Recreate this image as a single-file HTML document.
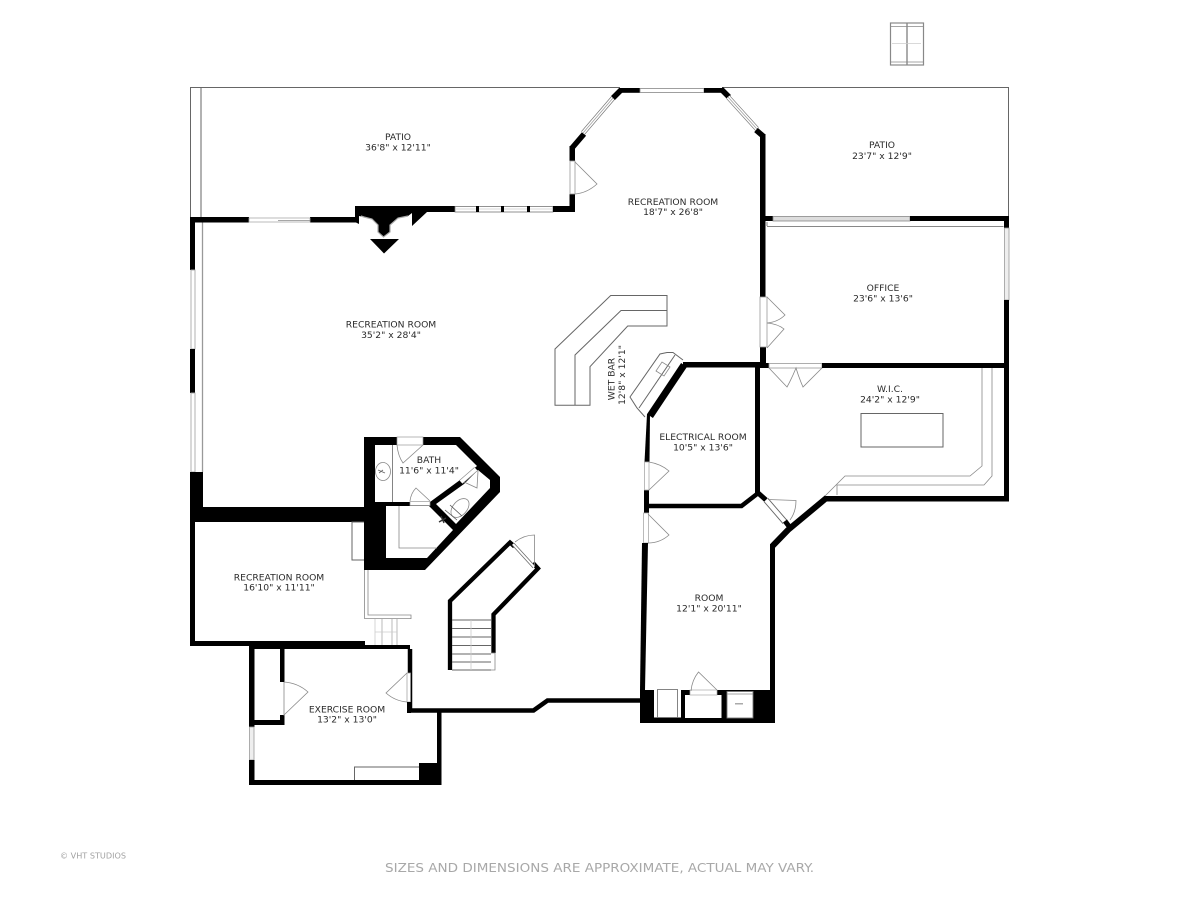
<!DOCTYPE html>
<html>
<head>
<meta charset="utf-8">
<style>
html,body{margin:0;padding:0;background:#fff}
svg{display:block}
text{font-family:"DejaVu Sans","Liberation Sans",sans-serif;font-size:9.2px;fill:#2a2a2a;text-anchor:middle}
.g{fill:none;stroke:#666;stroke-width:1}
.l{fill:none;stroke:#888;stroke-width:.8}
.f{fill:none;stroke:#ccc;stroke-width:.8}
.k{fill:none;stroke:#000;stroke-linejoin:miter}
</style>
</head>
<body>
<svg width="1200" height="900" viewBox="0 0 1200 900" xmlns="http://www.w3.org/2000/svg">
<rect width="1200" height="900" fill="#fff"/>

<!-- top box -->
<rect x="890.5" y="23" width="33" height="42" class="l" style="stroke-width:1.2"/>
<path d="M890 26.5H924M890 62H924" class="l"/>
<path d="M907 23V65" class="l" style="stroke-width:1.4"/>
<path d="M892 43.5H921" class="f"/>

<!-- patio outlines -->
<path d="M190.5 217V87.5H620M722 87.5H1008.5V217M201 87.5V217" class="g"/>

<!-- top-left walls -->
<rect x="190" y="217" width="59" height="5.5"/>
<rect x="310" y="217" width="46" height="5.5"/>
<rect x="190" y="217" width="5" height="53"/>
<rect x="249" y="218" width="61" height="4" fill="#fff" stroke="#aaa" stroke-width=".8"/>
<path d="M278 220.5H310" class="l"/>

<!-- fireplace -->
<path d="M355 206H455V212H427L412 226V213L408 216L398 218L390 225V232L383.5 237L378 232V225L372 219L364 217L359 216V224L355 222Z"/>
<path d="M361 216L364 217L372 219L378 225V232L383.500 237L390 232V225L398 218L408 216" fill="none" stroke="#aaa" stroke-width="1.200"/>
<path d="M370 239H399L384 253.500Z"/>

<!-- top windows -->
<rect x="455" y="206.5" width="98" height="5.5" fill="#fff" stroke="#777" stroke-width=".8"/>
<path d="M455 209H553" class="f"/>
<rect x="476" y="206" width="3" height="6"/>
<rect x="501" y="206" width="3" height="6"/>
<rect x="527" y="206" width="3" height="6"/>
<rect x="553" y="206" width="22" height="6"/>

<!-- left bay -->
<rect x="569.500" y="146" width="5.500" height="15"/>
<rect x="569.500" y="194" width="5.500" height="18"/>
<rect x="570" y="161" width="5" height="33" fill="#fff" stroke="#999" stroke-width=".8"/>
<path d="M572 148L584 134" class="k" stroke-width="5.500"/>
<path d="M583 133L613 98" stroke="#777" stroke-width="5"/>
<path d="M583 133L613 98" stroke="#fff" stroke-width="3.600"/>
<path d="M583 133L613 98" stroke="#999" stroke-width=".7"/>
<path d="M613 98L621 90" class="k" stroke-width="5.500"/>
<rect x="619" y="88" width="21" height="4.800"/>
<rect x="640" y="88.500" width="64" height="4" fill="#fff" stroke="#888" stroke-width=".8"/>
<rect x="704" y="88" width="18" height="4.800"/>
<path d="M721 89L729 97" class="k" stroke-width="5.500"/>
<path d="M728 97L757 129" stroke="#777" stroke-width="5"/>
<path d="M728 97L757 129" stroke="#fff" stroke-width="3.600"/>
<path d="M728 97L757 129" stroke="#999" stroke-width=".7"/>
<path d="M756 130L763 136" class="k" stroke-width="5.500"/>
<rect x="760" y="134" width="5.500" height="163"/>
<rect x="760" y="347" width="6" height="20"/>
<rect x="760" y="297" width="7" height="50" fill="#fff" stroke="#999" stroke-width=".8"/>

<!-- door swing rec -->
<path d="M575 162L597 184Q587 193 575 194" class="l"/>

<!-- office -->
<rect x="765" y="216" width="8" height="5"/>
<rect x="773" y="216.500" width="137" height="4.500" fill="#ddd" stroke="#888" stroke-width=".8"/>
<rect x="910" y="216" width="99" height="5"/>
<rect x="1004" y="216" width="5" height="12"/>
<path d="M767 226.500H1003.500M767 222V226" class="l" style="stroke-width:1.100"/>
<rect x="1004.500" y="228" width="4.500" height="72" fill="#eee" stroke="#999" stroke-width=".8"/>
<rect x="1004" y="300" width="5" height="201"/>
<path d="M767 297L785 315Q778 322 767 323Q778 324 784 329L767 348" class="l"/>

<!-- horizontal wall office / WIC -->
<rect x="683" y="362" width="77" height="5.500"/>
<rect x="760" y="363" width="9" height="5"/>
<rect x="769" y="363.500" width="53" height="4.500" fill="#fff" stroke="#999" stroke-width=".8"/>
<rect x="822" y="363" width="187" height="5"/>
<path d="M769 368L787 387Q792 378 796 368Q799 378 803 387L822 368" class="l"/>

<!-- electrical -->
<rect x="755" y="363" width="5" height="130"/>
<path d="M684 365L650 416" class="k" stroke-width="7"/>
<path d="M647 414L644.500 462H649.500L650 414Z"/>
<rect x="644" y="490" width="5" height="23"/>
<rect x="644.500" y="462" width="4.500" height="28" fill="#fff" stroke="#aaa" stroke-width=".8"/>
<rect x="643.500" y="513" width="5" height="30" fill="#fff" stroke="#aaa" stroke-width=".8"/>
<path d="M649 462Q661 464 669 471L649 490" class="l"/>
<path d="M648 514L669 535Q660 543 648 543" class="l"/>
<path d="M647 506H741.500L757 494" class="k" stroke-width="4.500" fill="none"/>

<!-- WIC bottom and diagonal -->
<rect x="825" y="496" width="184" height="5.500"/>
<path d="M827 497.500L788 530L772.500 546" class="k" stroke-width="6"/>
<path d="M757 492L766 500" class="k" stroke-width="5"/>
<path d="M766 500L785 522" stroke="#666" stroke-width="6"/>
<path d="M766 500L785 522" stroke="#fff" stroke-width="4.200"/>
<path d="M785 521L791 529" class="k" stroke-width="5"/>
<path d="M768 499.500L796 500.500Q796 512 790 520" class="l"/>
<path d="M982 368V466L970 476H845L825 496" class="l"/>
<path d="M992 368V476L984 485H837V495" class="l"/>
<rect x="861" y="413.500" width="82" height="33.500" class="g" stroke="#666"/>

<!-- Room right and lower -->
<rect x="770" y="544" width="5" height="178"/>
<path d="M642 543H648L645 690H640Z"/>
<rect x="640" y="690" width="135" height="33"/>
<rect x="654" y="689.500" width="27" height="28" fill="#fff"/>
<rect x="657.500" y="689.500" width="20" height="28" fill="#fff" stroke="#777" stroke-width=".9"/>
<rect x="685" y="695" width="36.500" height="23" fill="#fff"/>
<rect x="690" y="690" width="27" height="5" fill="#fff" stroke="#aaa" stroke-width=".7"/>
<rect x="727" y="691.500" width="26" height="26.500" fill="#fff" stroke="#777" stroke-width=".9"/>
<path d="M727 694H753" class="l"/>
<rect x="735" y="703" width="8" height="1.500" fill="#aaa"/>
<path d="M691 691Q692 680 698.500 672L717 690" class="l"/>

<!-- south connecting wall -->
<path d="M640 700.500H547.500L533.500 710.500H410V649" class="k" stroke-width="4.500" fill="none"/>

<!-- left window lines -->
<path d="M202.500 222.500V472" class="l" style="stroke:#999;stroke-width:1.300"/>
<rect x="191" y="270" width="4" height="79" fill="#fff" stroke="#aaa" stroke-width=".9"/>
<rect x="190" y="349" width="5" height="44"/>
<rect x="191" y="393" width="4" height="79" fill="#fff" stroke="#aaa" stroke-width=".9"/>
<rect x="190" y="472" width="13" height="36"/>
<rect x="190" y="507" width="175" height="15"/>
<rect x="190" y="521" width="5" height="125"/>
<rect x="190" y="641" width="60" height="5"/>

<!-- Bath block -->
<path d="M364 437H460L500 477V492L425 570H364Z"/>
<path d="M375 445H456L477 466L460 480L430 502H375Z" fill="#fff"/>
<path d="M386 506H429L453 530L427 558H386Z" fill="#fff"/>
<path d="M464 484L478 470L490 480V488L456 524L436 504Z" fill="#fff"/>
<path d="M392.500 445V502" class="l" style="stroke:#666"/>
<ellipse cx="383" cy="471.500" rx="7.500" ry="9" class="l"/>
<path d="M378 470L385 473M379 473L383 470" class="l" style="stroke:#666"/>
<rect x="397" y="437" width="26" height="8" fill="#fff" stroke="#999" stroke-width=".7"/>
<path d="M423 445L403 463Q398 456 397 445" class="l"/>
<rect x="410" y="501.500" width="20" height="4" fill="#fff" stroke="#999" stroke-width=".7"/>
<path d="M410 501Q411 493 416 488L430 501" class="l"/>
<path d="M399 506V548H437" class="l"/>
<path d="M461 482L476 469" stroke="#888" stroke-width="5"/>
<path d="M461 482L476 469" stroke="#fff" stroke-width="3.800"/>
<path d="M478 471L477 488L464 482" class="l"/>
<ellipse cx="460" cy="508" rx="7" ry="11" transform="rotate(42 460 508)" class="l"/>
<path d="M445 510L457 520M450 505L462 516" class="l" style="stroke:#555"/>
<path d="M439 522L446 518M441 516L444 523" class="l" style="stroke:#333;stroke-width:1.400"/>

<!-- rec room rect -->
<path d="M364 522H352V560H364" class="g" stroke="#888"/>

<!-- stair rail -->
<path d="M364.500 570V618.500H411M368 570V615H411V619" class="l" style="stroke:#888"/>
<path d="M382 619V645M392 619V645M397 619V645" class="l" style="stroke:#aaa"/>
<path d="M375 619V645M375 632H397" class="f"/>

<!-- upper exercise -->
<rect x="250" y="641" width="115" height="8"/>
<rect x="365" y="645" width="45" height="4"/>
<rect x="249" y="645" width="5.500" height="82"/>
<rect x="249.500" y="727" width="4.500" height="33" fill="#eee" stroke="#999" stroke-width=".8"/>
<rect x="249" y="760" width="5.500" height="25"/>
<rect x="249" y="780" width="192.500" height="5"/>
<rect x="437" y="711" width="4.500" height="74"/>
<rect x="419" y="763" width="22.500" height="22"/>
<path d="M419 767H354.500V780" class="g" stroke="#888"/>
<rect x="280" y="649" width="4.500" height="33"/>
<rect x="280" y="715" width="4.500" height="10"/>
<rect x="254" y="720" width="30.500" height="5"/>
<path d="M284 682Q298 683 308 692L284 715V682" class="l"/>
<rect x="407" y="673" width="3.500" height="29" fill="#fff" stroke="#999" stroke-width=".7"/>
<path d="M407 673L386 693Q395 701 407 702" class="l"/>
<rect x="407" y="702" width="4" height="11"/>

<!-- Main stairs -->
<path d="M450 670V601L510 542.500L514.500 546.500" class="k" stroke-width="4.300" fill="none"/>
<path d="M533 563L538 568.500L493.500 614.500V653" class="k" stroke-width="4.300" fill="none"/>
<path d="M513 544L534 567" stroke="#666" stroke-width="3.500"/>
<path d="M513 544L534 567" stroke="#fff" stroke-width="2"/>
<path d="M515 542Q524 535 534.500 535V566" class="l"/>
<path d="M452 620H491M452 628.500H491M452 637H491M452 645.500H491M452 654H491M452 662H491M452 670H491" class="g" stroke="#555"/>
<path d="M471 620V670" class="f"/>
<path d="M491 653H495V670H491" class="l"/>

<!-- bar -->
<path d="M555 349L610.700 295.500H667V326H627.700L590 366.700V405.300H555Z" class="g" stroke="#555"/>
<path d="M575 405V355L621 310.500H667" class="g" stroke="#777"/>

<!-- bar counter -->
<path d="M683 360L673 352.500H667L660 354L630 397L637 408L645 417" class="g" stroke="#777"/>
<path d="M639 408L675 355" class="g" stroke="#777"/>
<path d="M656 371L662 362L670 367L664 376Z" class="l"/>

<!-- labels -->
<text x="398" y="140">PATIO</text>
<text x="398" y="150.500">36'8" x 12'11"</text>
<text x="882" y="148">PATIO</text>
<text x="882" y="159">23'7" x 12'9"</text>
<text x="673" y="205">RECREATION ROOM</text>
<text x="673" y="215">18'7" x 26'8"</text>
<text x="391" y="327.500">RECREATION ROOM</text>
<text x="391" y="338">35'2" x 28'4"</text>
<text x="883" y="291">OFFICE</text>
<text x="883" y="301.500">23'6" x 13'6"</text>
<text x="890" y="392">W.I.C.</text>
<text x="890" y="402.500">24'2" x 12'9"</text>
<text x="703" y="440">ELECTRICAL ROOM</text>
<text x="703" y="450.500">10'5" x 13'6"</text>
<text x="709" y="601">ROOM</text>
<text x="709" y="611.500">12'1" x 20'11"</text>
<text x="279" y="580.500">RECREATION ROOM</text>
<text x="279" y="590.500">16'10" x 11'11"</text>
<text x="347" y="712.500">EXERCISE ROOM</text>
<text x="347" y="722.500">13'2" x 13'0"</text>
<text x="429" y="463">BATH</text>
<text x="429" y="473.500">11'6" x 11'4"</text>
<text transform="translate(614.500 379) rotate(-90)">WET BAR</text>
<text transform="translate(625 375) rotate(-90)">12'8" x 12'1"</text>

<text x="93" y="858.500" style="font-size:8px;fill:#a0a0a0" textLength="66" lengthAdjust="spacingAndGlyphs">© VHT STUDIOS</text>
<text x="599.500" y="872" style="font-size:12.500px;fill:#a8a8a8" textLength="429" lengthAdjust="spacingAndGlyphs">SIZES AND DIMENSIONS ARE APPROXIMATE, ACTUAL MAY VARY.</text>
</svg>
</body>
</html>
